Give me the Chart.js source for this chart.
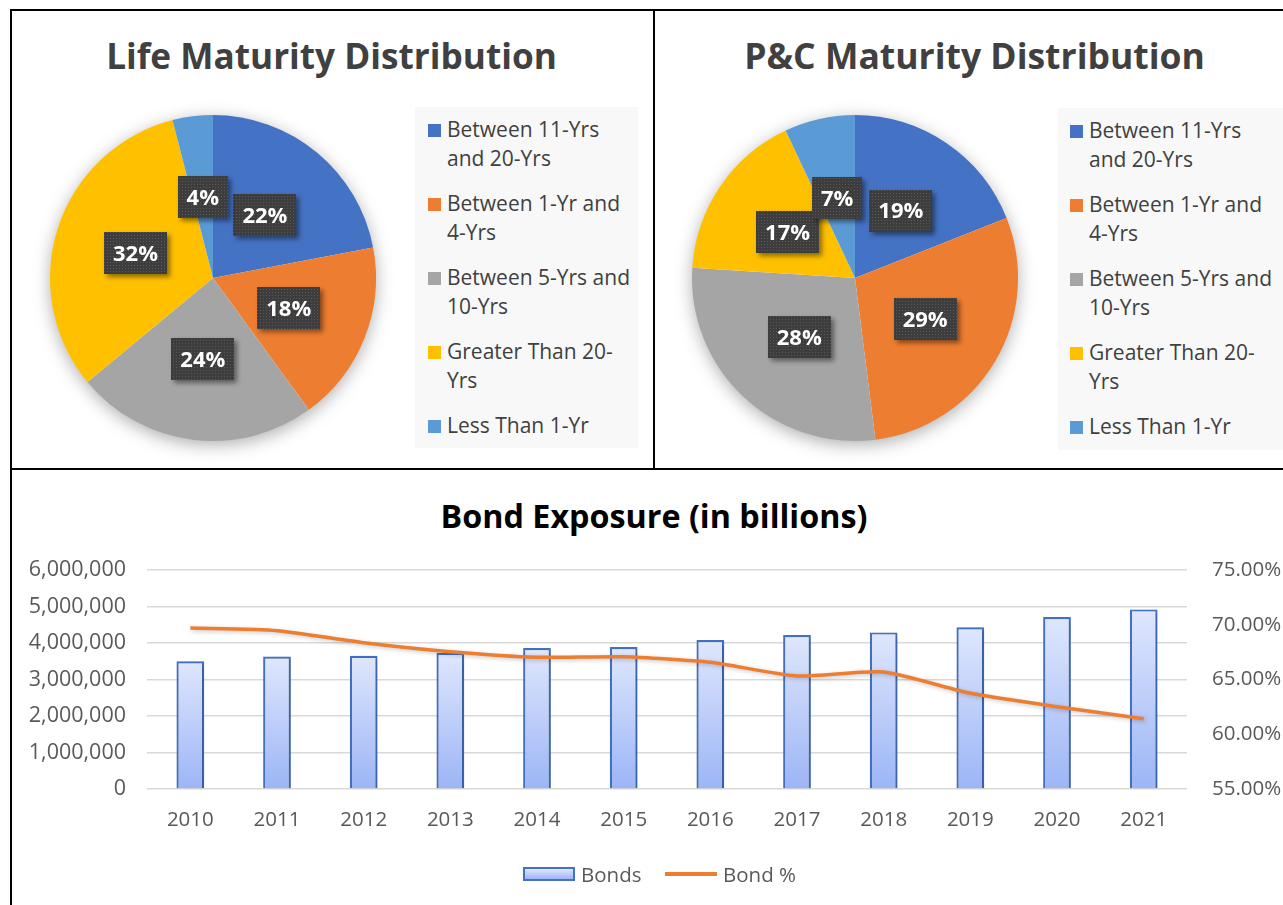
<!DOCTYPE html>
<html>
<head>
<meta charset="utf-8">
<title>Maturity Distribution and Bond Exposure</title>
<script src="https://cdn.jsdelivr.net/npm/chart.js@4.4.1/dist/chart.umd.min.js"></script>
<style>
html,body{margin:0;padding:0;background:#fff;width:1283px;height:905px;overflow:hidden;font-family:"Open Sans",sans-serif;}
.panel{position:absolute;box-sizing:border-box;border:2px solid #000;}
.title{position:absolute;font-weight:700;white-space:nowrap;line-height:1;transform:translate(-50%,-50%);}
.legend{position:absolute;background:#f8f8f8;}
.item{position:absolute;font-size:21px;line-height:29px;color:#404040;white-space:nowrap;}
.sw{position:absolute;width:13px;height:13px;}
.blg{position:absolute;font-size:20.5px;line-height:1;color:#595959;white-space:nowrap;transform:translateY(-50%);}
canvas{position:absolute;}
</style>
</head>
<body>
<div class="panel" style="left:10px;top:9px;width:645px;height:461px;"></div>
<div class="panel" style="left:653px;top:9px;width:680px;height:461px;"></div>
<div class="panel" style="left:10px;top:468px;width:1320px;height:480px;"></div>

<div class="title" style="left:331.5px;top:56px;font-size:35.2px;color:#404040">Life Maturity Distribution</div>
<div class="title" style="left:974.5px;top:56px;font-size:35.5px;color:#404040">P&amp;C Maturity Distribution</div>
<div class="title" style="left:654px;top:514.5px;font-size:32.3px;color:#000">Bond Exposure (in billions)</div>

<canvas id="lifePie" width="376" height="376" style="left:25px;top:90px"></canvas>
<canvas id="pcPie" width="376" height="376" style="left:667px;top:90px"></canvas>
<div class="legend" id="lifeLegend" style="left:415px;top:107px;width:223px;height:341px"></div>
<div class="legend" id="pcLegend" style="left:1058px;top:108px;width:240px;height:342px"></div>

<canvas id="bondChart" width="1271" height="435" style="left:12px;top:470px"></canvas>
<div id="bondLegend"></div>

<script>
// ---------- data ----------
const maturityCategories = [
  ['Between 11-Yrs', 'and 20-Yrs'],
  ['Between 1-Yr and', '4-Yrs'],
  ['Between 5-Yrs and', '10-Yrs'],
  ['Greater Than 20-', 'Yrs'],
  ['Less Than 1-Yr']
];
const lifeShares = [22, 18, 24, 32, 4];
const pcShares = [19, 29, 28, 17, 7];

const years = ['2010','2011','2012','2013','2014','2015','2016','2017','2018','2019','2020','2021'];
const bonds = [3500000, 3630000, 3650000, 3730000, 3860000, 3890000, 4080000, 4220000, 4290000, 4430000, 4710000, 4920000];
const bondPct = [69.70, 69.46, 68.36, 67.54, 67.03, 67.08, 66.57, 65.32, 65.68, 63.74, 62.52, 61.42];

const sliceColors = ['#4472C4', '#ED7D31', '#A5A5A5', '#FFC000', '#5B9BD5'];

Chart.defaults.font.family = '"Open Sans", sans-serif';

// ---------- pie helpers ----------
const pieShadow = {
  id: 'pieShadow',
  beforeDatasetsDraw(chart) {
    const arc = chart.getDatasetMeta(0).data[0];
    if (!arc) return;
    const ctx = chart.ctx;
    ctx.save();
    ctx.shadowColor = 'rgba(0,0,0,0.35)';
    ctx.shadowBlur = 18;
    ctx.shadowOffsetY = 4;
    ctx.beginPath();
    ctx.arc(arc.x, arc.y, arc.outerRadius - 1, 0, Math.PI * 2);
    ctx.fillStyle = '#ffffff';
    ctx.fill();
    ctx.restore();
  }
};

function labelPattern(ctx) {
  const c = document.createElement('canvas');
  c.width = 3; c.height = 3;
  const p = c.getContext('2d');
  p.fillStyle = '#3d3d3d'; p.fillRect(0, 0, 3, 3);
  p.fillStyle = '#585858'; p.fillRect(1, 1, 1, 1);
  return ctx.createPattern(c, 'repeat');
}

const pieLabels = {
  id: 'pieLabels',
  afterDatasetsDraw(chart) {
    const ctx = chart.ctx;
    const meta = chart.getDatasetMeta(0);
    const values = chart.data.datasets[0].data;
    const pat = labelPattern(ctx);
    ctx.save();
    ctx.font = 'bold 22px "Open Sans"';
    meta.data.forEach((arc, i) => {
      const mid = (arc.startAngle + arc.endAngle) / 2;
      const r = arc.outerRadius * 0.5;
      const cx = arc.x + Math.cos(mid) * r;
      const cy = arc.y + Math.sin(mid) * r;
      const text = values[i] + '%';
      const w = ctx.measureText(text).width + 18;
      const h = 42;
      ctx.save();
      ctx.shadowColor = 'rgba(0,0,0,0.45)';
      ctx.shadowBlur = 5;
      ctx.shadowOffsetX = 3;
      ctx.shadowOffsetY = 3;
      ctx.fillStyle = pat;
      ctx.fillRect(Math.round(cx - w / 2), Math.round(cy - h / 2), Math.round(w), h);
      ctx.restore();
      ctx.fillStyle = '#ffffff';
      ctx.textAlign = 'center';
      ctx.textBaseline = 'alphabetic';
      ctx.fillText(text, cx, cy + 7.9);
    });
    ctx.restore();
  }
};

function makePie(id, values) {
  return new Chart(document.getElementById(id), {
    type: 'pie',
    data: {
      labels: maturityCategories,
      datasets: [{ data: values, backgroundColor: sliceColors, borderWidth: 0, hoverOffset: 0 }]
    },
    options: {
      responsive: false, animation: false, events: [],
      layout: { padding: 25 },
      plugins: { legend: { display: false }, tooltip: { enabled: false } }
    },
    plugins: [pieShadow, pieLabels]
  });
}

function buildLegend(elId, swLeft, textLeft) {
  const el = document.getElementById(elId);
  maturityCategories.forEach((lines, i) => {
    const sw = document.createElement('div');
    sw.className = 'sw';
    sw.style.left = swLeft + 'px';
    sw.style.top = (16.5 + i * 74) + 'px';
    sw.style.background = sliceColors[i];
    el.appendChild(sw);
    const item = document.createElement('div');
    item.className = 'item';
    item.style.left = textLeft + 'px';
    item.style.top = (8 + i * 74) + 'px';
    lines.forEach((ln, k) => {
      if (k) item.appendChild(document.createElement('br'));
      item.appendChild(document.createTextNode(ln));
    });
    el.appendChild(item);
  });
}

makePie('lifePie', lifeShares);
makePie('pcPie', pcShares);
buildLegend('lifeLegend', 13, 32);
buildLegend('pcLegend', 12, 31);

// ---------- bond chart ----------
function barGradient(c) {
  const chart = c.chart;
  const y = chart.scales && chart.scales.y;
  if (!y || c.raw == null || !chart.chartArea) return '#c5d4fa';
  const top = y.getPixelForValue(c.raw), bottom = y.getPixelForValue(0);
  if (!isFinite(top) || !isFinite(bottom)) return '#c5d4fa';
  const g = chart.ctx.createLinearGradient(0, top, 0, bottom);
  g.addColorStop(0, '#dfe7fd');
  g.addColorStop(1, '#9cb5f6');
  return g;
}

const dsShadow = {
  id: 'dsShadow',
  beforeDatasetDraw(chart) {
    const ctx = chart.ctx;
    ctx.save();
    ctx.shadowColor = 'rgba(0,0,0,0.22)';
    ctx.shadowBlur = 4;
    ctx.shadowOffsetX = 1.5;
    ctx.shadowOffsetY = 1.5;
  },
  afterDatasetDraw(chart) { chart.ctx.restore(); }
};

const tickFont = { size: 20.5 };
new Chart(document.getElementById('bondChart'), {
  type: 'bar',
  data: {
    labels: years,
    datasets: [
      { type: 'line', label: 'Bond %', data: bondPct, yAxisID: 'y1', borderColor: '#ED7D31', borderWidth: 3.5,
        pointRadius: 0, tension: 0.2, fill: false, order: 0 },
      { type: 'bar', label: 'Bonds', data: bonds, yAxisID: 'y', backgroundColor: barGradient, borderColor: '#4472C4',
        borderWidth: 2.2, barPercentage: 0.32, categoryPercentage: 1, order: 1 }
    ]
  },
  options: {
    responsive: false, animation: false, events: [],
    layout: { padding: { top: 100, left: 0, right: 0, bottom: 0 } },
    plugins: { legend: { display: false }, tooltip: { enabled: false } },
    scales: {
      x: {
        grid: { display: false, drawTicks: false }, border: { display: false },
        ticks: { color: '#595959', font: tickFont, padding: 19, maxRotation: 0 },
        afterFit(s) { s.height = 116; }
      },
      y: {
        position: 'left', min: 0, max: 6000000,
        ticks: { stepSize: 1000000, color: '#595959', font: { size: 21.5 }, padding: 21, callback: v => v.toLocaleString('en-US') },
        grid: { color: '#d9d9d9', lineWidth: 1.5, drawTicks: false }, border: { display: false },
        afterFit(s) { s.width = 135; }
      },
      y1: {
        position: 'right', min: 55, max: 75,
        ticks: { stepSize: 5, color: '#595959', font: tickFont, padding: 25, callback: v => v.toFixed(2) + '%' },
        grid: { display: false, drawTicks: false }, border: { display: false },
        afterFit(s) { s.width = 96; }
      }
    }
  },
  plugins: [dsShadow]
});

// bottom legend (HTML)
(function () {
  const lg = document.getElementById('bondLegend');
  const sw1 = document.createElement('div');
  sw1.style.cssText = 'position:absolute;left:523px;top:867px;width:52px;height:14px;box-sizing:border-box;border:2px solid #4472C4;background:linear-gradient(#dfe7fd,#9cb5f6);';
  lg.appendChild(sw1);
  const t1 = document.createElement('div');
  t1.className = 'blg'; t1.style.left = '581px'; t1.style.top = '874px'; t1.textContent = 'Bonds';
  lg.appendChild(t1);
  const sw2 = document.createElement('div');
  sw2.style.cssText = 'position:absolute;left:665px;top:872px;width:52px;height:3.5px;background:#ED7D31;';
  lg.appendChild(sw2);
  const t2 = document.createElement('div');
  t2.className = 'blg'; t2.style.left = '723px'; t2.style.top = '874px'; t2.textContent = 'Bond %';
  lg.appendChild(t2);
})();
</script>
</body>
</html>
